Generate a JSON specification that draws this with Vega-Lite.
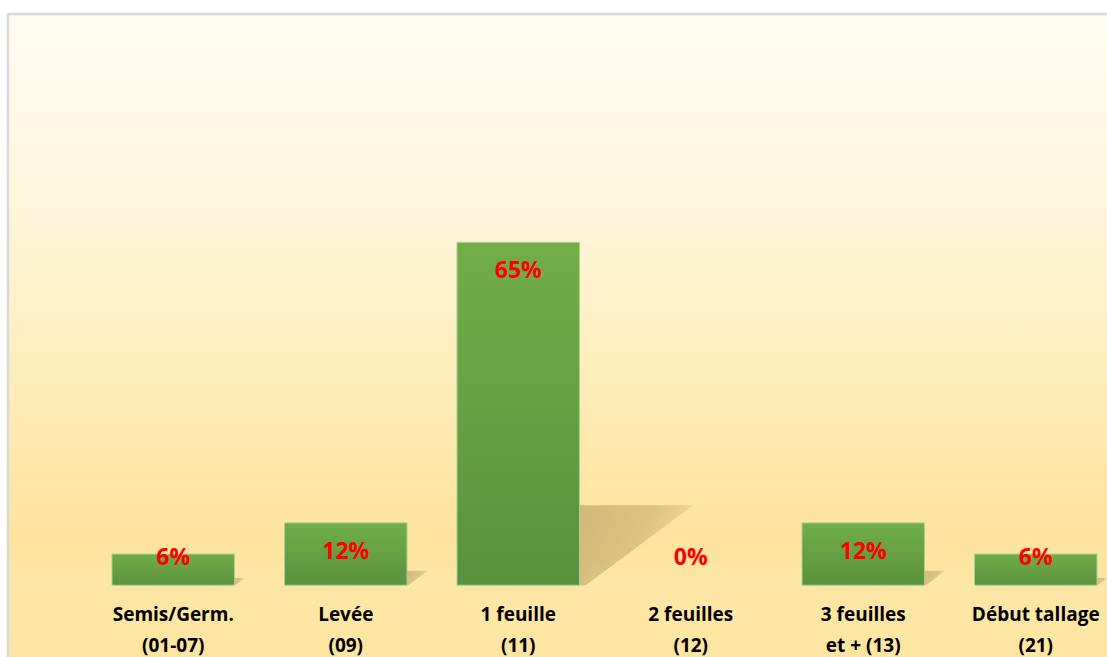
{
  "$schema": "https://vega.github.io/schema/vega-lite/v6.json",
  "autosize": "none",
  "padding": {"left": 8, "top": 14, "right": 0, "bottom": 0},
  "width": 1193,
  "height": 656,
  "background": "#ffffff",
  "config": {
    "view": {
      "stroke": "#d9d9d9",
      "strokeWidth": 2.5,
      "fill": {
        "gradient": "linear", "x1": 0, "y1": 0, "x2": 0, "y2": 1,
        "stops": [
          {"offset": 0, "color": "#fffdf3"},
          {"offset": 0.3, "color": "#fef6dc"},
          {"offset": 0.6, "color": "#feebb4"},
          {"offset": 0.8, "color": "#fde39c"},
          {"offset": 0.87, "color": "#fde7a6"},
          {"offset": 1, "color": "#fee5a0"}
        ]
      }
    },
    "font": "Open Sans"
  },
  "data": {
    "values": [
      {"stage": "Semis/Germ.|(01-07)", "v": 0.0588},
      {"stage": "Levée|(09)", "v": 0.1176},
      {"stage": "1 feuille|(11)", "v": 0.6471},
      {"stage": "2 feuilles|(12)", "v": 0},
      {"stage": "3 feuilles|et + (13)", "v": 0.1176},
      {"stage": "Début tallage|(21)", "v": 0.0588}
    ]
  },
  "encoding": {
    "x": {
      "field": "stage", "type": "nominal", "title": null,
      "sort": ["Semis/Germ.|(01-07)", "Levée|(09)", "1 feuille|(11)", "2 feuilles|(12)", "3 feuilles|et + (13)", "Début tallage|(21)"],
      "scale": {"paddingInner": 0.29, "paddingOuter": 0.603,
                "domain": ["Semis/Germ.|(01-07)", "Levée|(09)", "1 feuille|(11)", "2 feuilles|(12)", "3 feuilles|et + (13)", "Début tallage|(21)"]},
      "axis": {
        "orient": "bottom", "offset": -85, "domain": false, "ticks": false, "grid": false,
        "labelAngle": 0, "labelExpr": "split(datum.label, '|')",
        "labelFont": "Open Sans", "labelFontWeight": "bold", "labelFontSize": 19,
        "labelColor": "#000000", "labelPadding": 20, "labelLineHeight": 31,
        "labelBaseline": "top", "labelLimit": 300
      }
    }
  },
  "resolve": {"scale": {"y": "independent"}},
  "layer": [
    {
      "transform": [{"filter": "datum.v > 0"}],
      "mark": {
        "type": "point", "filled": true, "opacity": 1,
        "shape": "M0,0 L0,-1 L1.42,-1 L0.08,0 Z",
        "fill": {
          "gradient": "linear", "x1": 0, "y1": 0, "x2": 1, "y2": 0.4,
          "stops": [
            {"offset": 0, "color": "rgba(140,120,60,0.40)"},
            {"offset": 0.6, "color": "rgba(140,120,60,0.30)"},
            {"offset": 1, "color": "rgba(140,120,60,0.06)"}
          ]
        },
        "strokeWidth": 0
      },
      "encoding": {
        "x": {"field": "stage", "type": "nominal", "bandPosition": 1,
              "sort": ["Semis/Germ.|(01-07)", "Levée|(09)", "1 feuille|(11)", "2 feuilles|(12)", "3 feuilles|et + (13)", "Début tallage|(21)"]},
        "y": {"datum": 0, "type": "quantitative", "axis": null,
              "scale": {"domain": [-0.16, 1.078], "nice": false, "zero": false}},
        "size": {"field": "v", "type": "quantitative", "legend": null,
                 "scale": {"type": "pow", "exponent": 2, "domain": [0, 0.6471], "range": [0, 25600]}}
      }
    },
    {
      "transform": [{"filter": "datum.v > 0"}],
      "mark": {
        "type": "bar",
        "stroke": "#a9d08e", "strokeWidth": 1,
        "fill": {
          "gradient": "linear", "x1": 0, "y1": 0, "x2": 0, "y2": 1,
          "stops": [
            {"offset": 0, "color": "#71ae48"},
            {"offset": 1, "color": "#5a913e"}
          ]
        }
      },
      "encoding": {
        "y": {"field": "v", "type": "quantitative", "axis": null,
              "scale": {"domain": [-0.16, 1.078], "nice": false, "zero": false}},
        "y2": {"datum": 0}
      }
    },
    {
      "transform": [{"filter": "datum.v >= 0.1"}],
      "mark": {"type": "text", "color": "#ff0000", "fontWeight": "bold", "fontSize": 23, "font": "Open Sans", "baseline": "middle", "dy": 29},
      "encoding": {
        "y": {"field": "v", "type": "quantitative", "axis": null,
              "scale": {"domain": [-0.16, 1.078], "nice": false, "zero": false}},
        "text": {"field": "v", "type": "quantitative", "format": ".0%"}
      }
    },
    {
      "transform": [{"filter": "datum.v < 0.1"}],
      "mark": {"type": "text", "color": "#ff0000", "fontWeight": "bold", "fontSize": 23, "font": "Open Sans", "baseline": "middle", "dy": -27},
      "encoding": {
        "y": {"datum": 0, "type": "quantitative", "axis": null,
              "scale": {"domain": [-0.16, 1.078], "nice": false, "zero": false}},
        "text": {"field": "v", "type": "quantitative", "format": ".0%"}
      }
    }
  ]
}
